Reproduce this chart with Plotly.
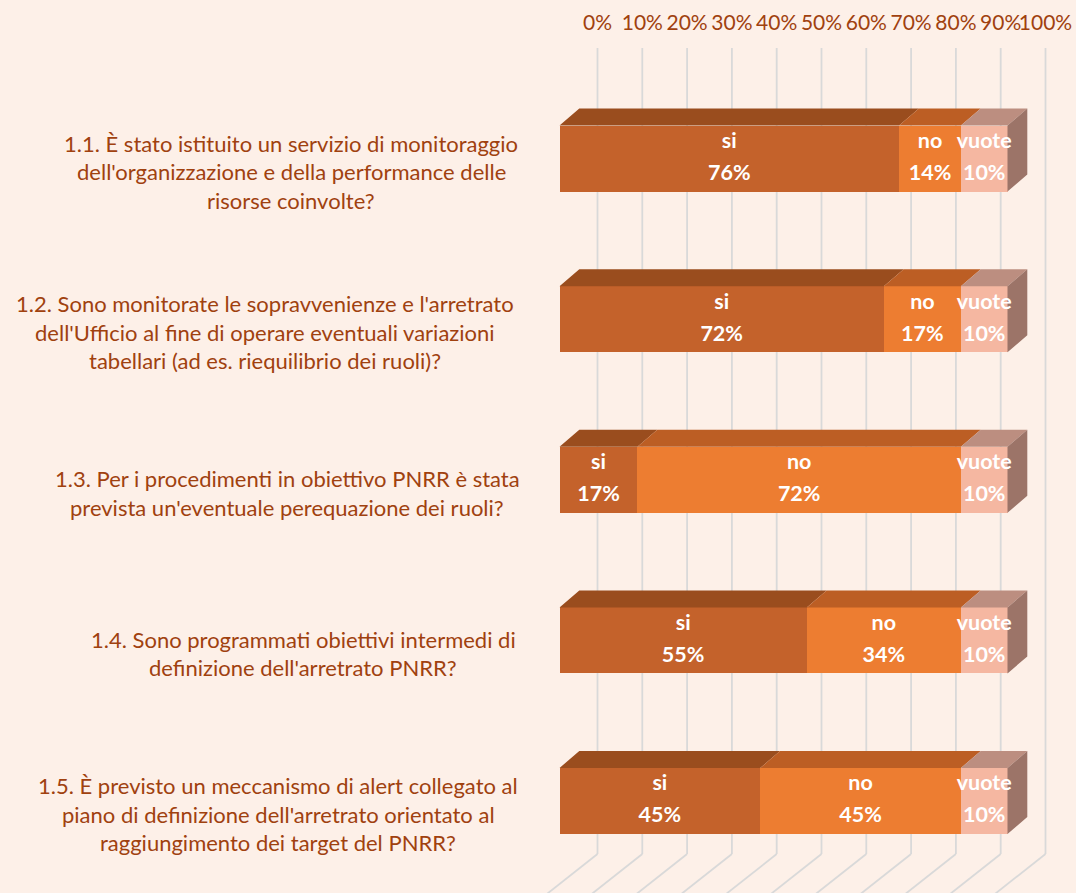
import plotly.graph_objects as go

# ---------------- data ----------------
categories = [
    "1.1. È stato istituito un servizio di monitoraggio<br>dell'organizzazione e della performance delle<br>risorse coinvolte?",
    "1.2. Sono monitorate le sopravvenienze e l'arretrato<br>dell'Ufficio al fine di operare eventuali variazioni<br>tabellari (ad es. riequilibrio dei ruoli)?",
    "1.3. Per i procedimenti in obiettivo PNRR è stata<br>prevista un'eventuale perequazione dei ruoli?",
    "1.4. Sono programmati obiettivi intermedi di<br>definizione dell'arretrato PNRR?",
    "1.5. È previsto un meccanismo di alert collegato al<br>piano di definizione dell'arretrato orientato al<br>raggiungimento dei target del PNRR?",
]
series_names = ["si", "no", "vuote"]
si = [75.8, 72.4, 17.4, 55.2, 44.8]
no = [13.8, 17.2, 72.2, 34.4, 44.8]
vuote = [10.4, 10.4, 10.4, 10.4, 10.4]
tick_values = [0, 10, 20, 30, 40, 50, 60, 70, 80, 90, 100]
tick_labels = ["0%", "10%", "20%", "30%", "40%", "50%", "60%", "70%", "80%", "90%", "100%"]

# ---------------- style ----------------
BG = "#FDF0E8"
TXT = "#A0410F"
FRONT = {"si": "#C4622B", "no": "#ED7D31", "vuote": "#F5B7A1"}
TOP = {"si": "#9A4D1E", "no": "#BC5E24", "vuote": "#BC8E80"}
SIDE = "#9C7468"
GRID = "#D9D9D9"
FONT = "Lato"

W, H = 1076, 893
L_M, R_M, T_M, B_M = 540, 0, 48, 0
PXP = 4.48            # px per percent
FRONT0 = 559.5        # px of 0% on the front faces
ROW0, ROWSTEP = 158.6, 160.6
xr = [(L_M - FRONT0) / PXP, (W - R_M - FRONT0) / PXP]
yr = [(H - B_M - ROW0) / ROWSTEP, (T_M - ROW0) / ROWSTEP]  # reversed
WALL = 38 / PXP
DX = 19.8 / PXP
DY = 17 / ROWSTEP
HALF = 33 / ROWSTEP
WALL_BOTTOM = (854 - ROW0) / ROWSTEP

n = len(categories)
rows = list(range(n))
series = {"si": si, "no": no, "vuote": vuote}

fig = go.Figure()

# front faces
for name in series_names:
    fig.add_trace(go.Bar(
        y=rows, x=series[name], orientation="h", name=name,
        marker=dict(color=FRONT[name], line=dict(width=0)),
        width=2 * HALF, textposition="none", hoverinfo="skip",
        showlegend=False,
    ))

# top faces
for si_idx, name in enumerate(series_names):
    xs, ys = [], []
    for i in rows:
        a = sum(series[series_names[k]][i] for k in range(si_idx))
        b = a + series[name][i]
        yt = i - HALF
        xs += [a, b, b + DX, a + DX, a, None]
        ys += [yt, yt, yt - DY, yt - DY, yt, None]
    fig.add_trace(go.Scatter(x=xs, y=ys, mode="lines", fill="toself",
                             fillcolor=TOP[name], line=dict(width=0),
                             hoverinfo="skip", showlegend=False))

# side faces (right end)
xs, ys = [], []
for i in rows:
    e = si[i] + no[i] + vuote[i]
    xs += [e, e + DX, e + DX, e, e, None]
    ys += [i - HALF, i - HALF - DY, i + HALF - DY, i + HALF, i - HALF, None]
fig.add_trace(go.Scatter(x=xs, y=ys, mode="lines", fill="toself",
                         fillcolor=SIDE, line=dict(width=0),
                         hoverinfo="skip", showlegend=False))

# data labels
for si_idx, name in enumerate(series_names):
    xs, ys1, ys2, t2 = [], [], [], []
    for i in rows:
        a = sum(series[series_names[k]][i] for k in range(si_idx))
        xs.append(a + series[name][i] / 2)
        ys1.append(i - 16 / ROWSTEP)
        ys2.append(i + 16 / ROWSTEP)
        t2.append(f"{series[name][i]:.0f}%")
    fig.add_trace(go.Scatter(x=xs, y=ys1, mode="text", text=[name] * n,
                             textfont=dict(family=FONT, size=21.5, color="white", weight="bold"),
                             cliponaxis=False, hoverinfo="skip", showlegend=False))
    fig.add_trace(go.Scatter(x=xs, y=ys2, mode="text", text=t2,
                             textfont=dict(family=FONT, size=21.5, color="white", weight="bold"),
                             cliponaxis=False, hoverinfo="skip", showlegend=False))

# invisible trace for the top axis
fig.add_trace(go.Scatter(x=[tick_values[0], tick_values[-1]], y=[0, 0], xaxis="x2",
                         mode="markers", marker=dict(opacity=0), hoverinfo="skip",
                         showlegend=False))

# gridlines: back wall + floor
shapes = []
for v in tick_values:
    xw = v + WALL
    shapes.append(dict(type="line", xref="x", yref="y", x0=xw, x1=xw,
                       y0=yr[1], y1=WALL_BOTTOM, layer="below",
                       line=dict(color=GRID, width=1.8)))
    shapes.append(dict(type="line", xref="x", yref="y", x0=xw, y0=WALL_BOTTOM,
                       x1=xw - 100 / PXP, y1=WALL_BOTTOM + 79 / ROWSTEP, layer="below",
                       line=dict(color=GRID, width=1.8)))

# category labels (one annotation per line, centred block)
centers_px = [291, 265, 287, 303, 278]
annotations = []
for i, cat in enumerate(categories):
    lines = cat.split("<br>")
    m = len(lines)
    for k, ln in enumerate(lines):
        annotations.append(dict(
            xref="paper", yref="y", x=(centers_px[i] - L_M) / (W - L_M - R_M), y=i,
            yshift=-(13 + (k - (m - 1) / 2) * 28.5), text=ln, showarrow=False,
            xanchor="center", yanchor="middle",
            font=dict(family=FONT, size=22, color=TXT)))

fig.update_layout(
    width=W, height=H,
    margin=dict(l=L_M, r=R_M, t=T_M, b=B_M, autoexpand=False),
    paper_bgcolor=BG, plot_bgcolor=BG,
    barmode="stack", bargap=0,
    shapes=shapes, annotations=annotations,
    xaxis=dict(range=xr, showgrid=False, zeroline=False, showticklabels=False,
               showline=False, fixedrange=True),
    xaxis2=dict(range=[xr[0] - WALL, xr[1] - WALL], overlaying="x", side="top",
                tickvals=tick_values, ticktext=tick_labels, showgrid=False,
                zeroline=False, showline=False, ticks="", ticklabelstandoff=13,
                tickangle=0, automargin=False,
                tickfont=dict(family=FONT, size=21, color=TXT)),
    yaxis=dict(range=yr, showgrid=False, zeroline=False, showticklabels=False,
               showline=False),
)

fig.write_html(
    "out.html",
    config={"displayModeBar": False},
    post_script="document.body.style.margin='0';document.body.style.overflow='hidden';"
                "document.body.style.background='" + BG + "';",
)
